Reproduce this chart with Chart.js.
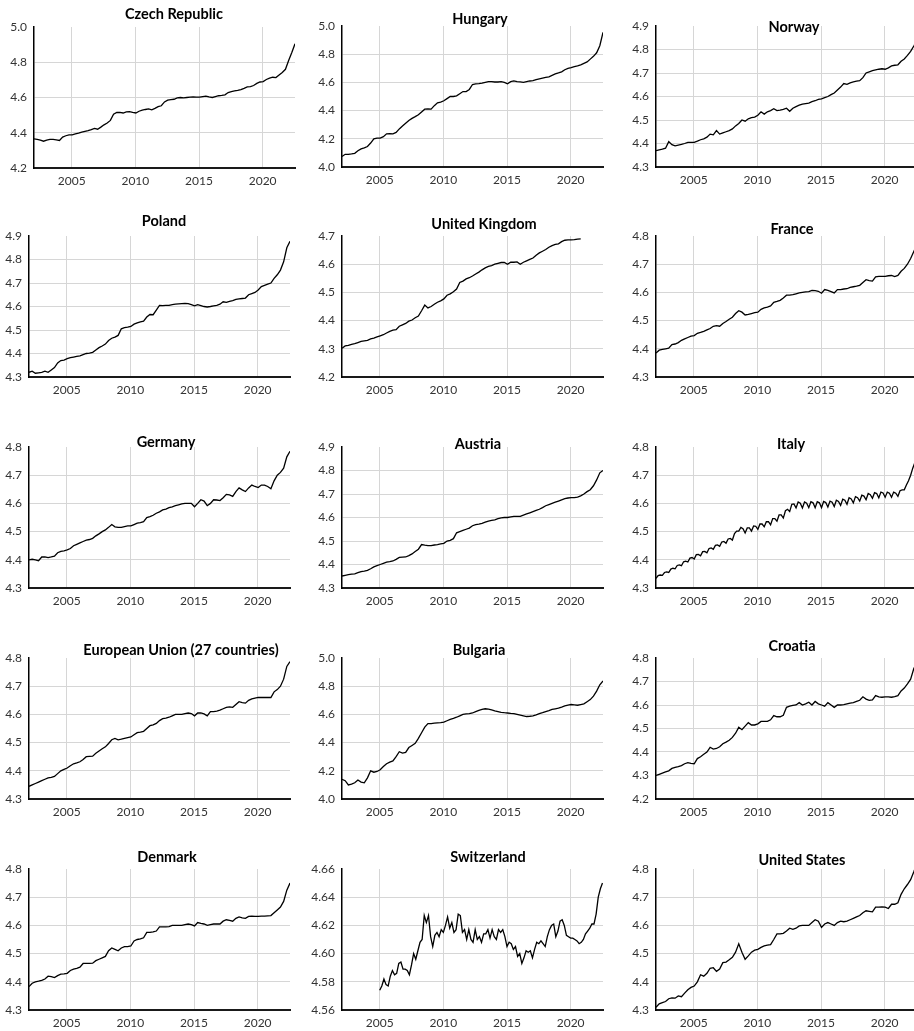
<!DOCTYPE html>
<html>
<head>
<meta charset="utf-8">
<script src="https://cdn.jsdelivr.net/npm/chart.js@4.4.1/dist/chart.umd.min.js"></script>
<style>
  html, body { margin: 0; padding: 0; width: 914px; height: 1031px; overflow: hidden; background: #fff; }
  canvas { position: absolute; }
  .ttl { position: absolute; font: 700 14.5px Lato, sans-serif; line-height: 1; color: #000;
         white-space: nowrap; transform: translate(-50%, -50%); }
</style>
</head>
<body>
<script>
// Log price index series, quarterly from early 2002 (Italy and Switzerland bimonthly)
const YEAR_TICKS = [2005, 2010, 2015, 2020];
const X_MIN = 2002.04, X_MAX = 2022.54;
const QUARTER_START = 2002.04, QUARTER_STEP = 0.25;
const BIMONTH_STEP = 1 / 6;
const SWISS_START = 2005.0;

const TICKS_42_50 = [4.2, 4.4, 4.6, 4.8, 5.0];
const TICKS_40_50 = [4.0, 4.2, 4.4, 4.6, 4.8, 5.0];
const TICKS_43_49 = [4.3, 4.4, 4.5, 4.6, 4.7, 4.8, 4.9];
const TICKS_42_47 = [4.2, 4.3, 4.4, 4.5, 4.6, 4.7];
const TICKS_43_48 = [4.3, 4.4, 4.5, 4.6, 4.7, 4.8];
const TICKS_42_48 = [4.2, 4.3, 4.4, 4.5, 4.6, 4.7, 4.8];
const TICKS_456_466 = [4.56, 4.58, 4.60, 4.62, 4.64, 4.66];

const czechRepublic = [
  4.365, 4.363, 4.358, 4.352, 4.358, 4.362, 4.362, 4.36, 4.356, 4.375, 4.383, 4.388,
  4.388, 4.393, 4.398, 4.404, 4.408, 4.412, 4.418, 4.425, 4.42, 4.432, 4.445, 4.455,
  4.47, 4.505, 4.515, 4.515, 4.512, 4.518, 4.52, 4.515, 4.512, 4.522, 4.528, 4.532,
  4.535, 4.53, 4.538, 4.548, 4.553, 4.575, 4.585, 4.588, 4.59, 4.598, 4.6, 4.598,
  4.6, 4.602, 4.603, 4.602, 4.602, 4.605, 4.608, 4.603, 4.6, 4.605, 4.61, 4.612,
  4.615, 4.628, 4.633, 4.637, 4.64, 4.645, 4.652, 4.66, 4.662, 4.668, 4.68, 4.688,
  4.69, 4.702, 4.71, 4.715, 4.713, 4.728, 4.742, 4.76, 4.81, 4.855, 4.905];

const hungary = [
  4.075, 4.09, 4.09, 4.093, 4.097, 4.115, 4.128, 4.135, 4.145, 4.17, 4.2, 4.205,
  4.205, 4.215, 4.235, 4.237, 4.235, 4.245, 4.27, 4.29, 4.31, 4.33, 4.345, 4.357,
  4.37, 4.39, 4.41, 4.412, 4.41, 4.435, 4.455, 4.46, 4.47, 4.485, 4.5, 4.5,
  4.505, 4.52, 4.535, 4.535, 4.55, 4.585, 4.59, 4.592, 4.595, 4.6, 4.605, 4.605,
  4.603, 4.603, 4.605, 4.6, 4.59, 4.605, 4.61, 4.605, 4.603, 4.6, 4.605, 4.61,
  4.612, 4.62, 4.625, 4.63, 4.635, 4.64, 4.65, 4.66, 4.667, 4.675, 4.69, 4.7,
  4.705, 4.712, 4.718, 4.725, 4.735, 4.745, 4.765, 4.785, 4.81, 4.86, 4.955];

const norway = [
  4.37, 4.373, 4.376, 4.38, 4.408, 4.395, 4.39, 4.393, 4.396, 4.4, 4.405, 4.405,
  4.405, 4.41, 4.416, 4.42, 4.427, 4.44, 4.437, 4.455, 4.44, 4.445, 4.45, 4.455,
  4.462, 4.475, 4.485, 4.5, 4.495, 4.505, 4.51, 4.512, 4.52, 4.535, 4.525, 4.535,
  4.54, 4.548, 4.54, 4.542, 4.545, 4.55, 4.537, 4.55, 4.557, 4.563, 4.568, 4.57,
  4.572, 4.578, 4.582, 4.588, 4.59, 4.595, 4.6, 4.608, 4.615, 4.628, 4.64, 4.655,
  4.652, 4.658, 4.662, 4.665, 4.667, 4.68, 4.7, 4.705, 4.71, 4.713, 4.716, 4.718,
  4.716, 4.722, 4.73, 4.733, 4.735, 4.75, 4.76, 4.775, 4.792, 4.815, 4.84];

const poland = [
  4.32, 4.325, 4.316, 4.318, 4.32, 4.325, 4.32, 4.33, 4.34, 4.36, 4.37, 4.372,
  4.378, 4.382, 4.385, 4.388, 4.39, 4.395, 4.4, 4.402, 4.405, 4.415, 4.425, 4.432,
  4.44, 4.455, 4.465, 4.47, 4.477, 4.505, 4.51, 4.512, 4.515, 4.525, 4.53, 4.535,
  4.538, 4.555, 4.566, 4.565, 4.585, 4.605, 4.604, 4.605, 4.605, 4.608, 4.61, 4.611,
  4.612, 4.613, 4.612, 4.608, 4.603, 4.608, 4.604, 4.6, 4.598, 4.6, 4.603, 4.605,
  4.61, 4.62, 4.618, 4.622, 4.625, 4.63, 4.632, 4.634, 4.636, 4.65, 4.655, 4.66,
  4.67, 4.685, 4.69, 4.695, 4.7, 4.72, 4.735, 4.755, 4.79, 4.85, 4.878];

const unitedKingdom = [
  4.302, 4.31, 4.312, 4.316, 4.318, 4.322, 4.326, 4.328, 4.33, 4.335, 4.338, 4.342,
  4.346, 4.35, 4.356, 4.362, 4.366, 4.368, 4.38, 4.385, 4.39, 4.398, 4.402, 4.41,
  4.416, 4.435, 4.455, 4.445, 4.45, 4.458, 4.465, 4.47, 4.477, 4.49, 4.495, 4.502,
  4.512, 4.535, 4.54, 4.548, 4.552, 4.558, 4.565, 4.572, 4.58, 4.587, 4.592, 4.595,
  4.6, 4.603, 4.606, 4.606, 4.6, 4.607, 4.607, 4.608, 4.6, 4.607, 4.612, 4.617,
  4.622, 4.632, 4.64, 4.646, 4.652, 4.66, 4.666, 4.67, 4.672, 4.68, 4.685, 4.686,
  4.686, 4.687, 4.689, 4.69];

const france = [
  4.385, 4.395, 4.398, 4.4, 4.402, 4.415, 4.417, 4.422, 4.43, 4.435, 4.44, 4.445,
  4.447, 4.455, 4.458, 4.462, 4.467, 4.472, 4.48, 4.482, 4.48, 4.49, 4.497, 4.505,
  4.512, 4.525, 4.535, 4.53, 4.52, 4.522, 4.525, 4.528, 4.53, 4.54, 4.545, 4.548,
  4.552, 4.565, 4.568, 4.572, 4.58, 4.59, 4.59, 4.592, 4.595, 4.598, 4.6, 4.602,
  4.603, 4.607, 4.606, 4.604, 4.597, 4.61, 4.607, 4.603, 4.598, 4.61, 4.61, 4.612,
  4.613, 4.618, 4.62, 4.622, 4.625, 4.635, 4.645, 4.642, 4.64, 4.655, 4.657, 4.657,
  4.657, 4.659, 4.66, 4.656, 4.66, 4.675, 4.685, 4.7, 4.72, 4.745, 4.77];

const germany = [
  4.4, 4.402, 4.4, 4.397, 4.41, 4.41, 4.408, 4.41, 4.413, 4.425, 4.43, 4.432,
  4.435, 4.44, 4.45, 4.455, 4.46, 4.465, 4.47, 4.472, 4.476, 4.485, 4.492, 4.5,
  4.506, 4.515, 4.525, 4.517, 4.515, 4.515, 4.518, 4.52, 4.52, 4.525, 4.53, 4.532,
  4.535, 4.55, 4.553, 4.558, 4.565, 4.57, 4.577, 4.58, 4.585, 4.588, 4.592, 4.595,
  4.598, 4.6, 4.6, 4.6, 4.588, 4.6, 4.613, 4.608, 4.592, 4.6, 4.613, 4.612,
  4.61, 4.62, 4.632, 4.63, 4.625, 4.642, 4.655, 4.648, 4.642, 4.655, 4.665, 4.66,
  4.656, 4.665, 4.665, 4.66, 4.652, 4.68, 4.7, 4.71, 4.725, 4.765, 4.785];

const austria = [
  4.351, 4.354, 4.357, 4.359, 4.36, 4.365, 4.37, 4.372, 4.375, 4.382, 4.39, 4.395,
  4.4, 4.405, 4.41, 4.412, 4.415, 4.422, 4.43, 4.431, 4.432, 4.438, 4.445, 4.455,
  4.465, 4.485, 4.482, 4.48, 4.48, 4.483, 4.485, 4.488, 4.49, 4.5, 4.503, 4.51,
  4.535, 4.54, 4.545, 4.55, 4.555, 4.565, 4.57, 4.572, 4.575, 4.58, 4.585, 4.588,
  4.59, 4.595, 4.598, 4.6, 4.6, 4.603, 4.605, 4.605, 4.605, 4.61, 4.615, 4.62,
  4.625, 4.63, 4.635, 4.642, 4.65, 4.655, 4.66, 4.665, 4.67, 4.675, 4.68, 4.683,
  4.685, 4.685, 4.687, 4.692, 4.7, 4.71, 4.718, 4.735, 4.76, 4.79, 4.8];

const italy = [
  4.334, 4.344, 4.346, 4.345, 4.355, 4.357,
  4.355, 4.367, 4.37, 4.368, 4.38, 4.382,
  4.379, 4.393, 4.395, 4.392, 4.406, 4.408,
  4.403, 4.418, 4.419, 4.414, 4.429, 4.43,
  4.425, 4.44, 4.442, 4.437, 4.451, 4.453,
  4.448, 4.463, 4.465, 4.459, 4.474, 4.476,
  4.47, 4.493, 4.502, 4.502, 4.515, 4.51,
  4.495, 4.513, 4.513, 4.502, 4.52, 4.519,
  4.508, 4.527, 4.527, 4.517, 4.535, 4.535,
  4.524, 4.546, 4.546, 4.537, 4.559, 4.559,
  4.548, 4.574, 4.579, 4.571, 4.597, 4.598,
  4.584, 4.605, 4.601, 4.584, 4.605, 4.601,
  4.585, 4.606, 4.602, 4.585, 4.606, 4.602,
  4.585, 4.607, 4.603, 4.587, 4.608, 4.604,
  4.589, 4.611, 4.607, 4.593, 4.615, 4.611,
  4.597, 4.62, 4.616, 4.602, 4.624, 4.62,
  4.608, 4.629, 4.626, 4.613, 4.635, 4.631,
  4.618, 4.638, 4.635, 4.62, 4.64, 4.637,
  4.622, 4.64, 4.636, 4.622, 4.64, 4.636,
  4.625, 4.645, 4.648, 4.648, 4.665, 4.68,
  4.7, 4.725, 4.745, 4.76];

const europeanUnion = [
  4.345, 4.35, 4.355, 4.36, 4.365, 4.37, 4.375, 4.377, 4.38, 4.39, 4.4, 4.405,
  4.41, 4.418, 4.425, 4.428, 4.432, 4.44, 4.45, 4.451, 4.452, 4.462, 4.47, 4.478,
  4.485, 4.497, 4.51, 4.515, 4.51, 4.512, 4.515, 4.518, 4.52, 4.528, 4.535, 4.537,
  4.54, 4.55, 4.56, 4.563, 4.568, 4.578, 4.585, 4.587, 4.59, 4.595, 4.6, 4.6,
  4.6, 4.603, 4.605, 4.603, 4.595, 4.605, 4.605, 4.602, 4.595, 4.61, 4.61, 4.612,
  4.615, 4.62, 4.625, 4.627, 4.625, 4.635, 4.645, 4.642, 4.64, 4.65, 4.655, 4.658,
  4.66, 4.66, 4.66, 4.66, 4.66, 4.68, 4.688, 4.7, 4.725, 4.77, 4.787];

const bulgaria = [
  4.14, 4.13, 4.1, 4.105, 4.115, 4.135, 4.12, 4.115, 4.15, 4.2, 4.19, 4.195,
  4.207, 4.23, 4.25, 4.262, 4.27, 4.3, 4.335, 4.325, 4.33, 4.365, 4.38, 4.395,
  4.43, 4.47, 4.51, 4.535, 4.535, 4.538, 4.54, 4.542, 4.545, 4.555, 4.565, 4.572,
  4.58, 4.59, 4.6, 4.603, 4.605, 4.61, 4.62, 4.628, 4.635, 4.64, 4.637, 4.632,
  4.625, 4.62, 4.615, 4.612, 4.61, 4.607, 4.605, 4.6, 4.595, 4.59, 4.585, 4.587,
  4.59, 4.597, 4.605, 4.612, 4.62, 4.627, 4.635, 4.64, 4.645, 4.652, 4.66, 4.665,
  4.67, 4.668, 4.665, 4.67, 4.675, 4.69, 4.705, 4.73, 4.765, 4.81, 4.837];

const croatia = [
  4.3, 4.305, 4.31, 4.315, 4.32, 4.33, 4.335, 4.338, 4.342, 4.35, 4.355, 4.352,
  4.35, 4.372, 4.38, 4.39, 4.4, 4.42, 4.412, 4.415, 4.422, 4.435, 4.442, 4.45,
  4.462, 4.48, 4.505, 4.495, 4.51, 4.525, 4.515, 4.515, 4.52, 4.53, 4.53, 4.53,
  4.537, 4.555, 4.55, 4.55, 4.556, 4.59, 4.595, 4.598, 4.6, 4.61, 4.6, 4.605,
  4.612, 4.6, 4.615, 4.605, 4.6, 4.595, 4.61, 4.6, 4.59, 4.6, 4.6, 4.602,
  4.605, 4.608, 4.61, 4.615, 4.62, 4.635, 4.625, 4.62, 4.622, 4.64, 4.635, 4.633,
  4.635, 4.635, 4.633, 4.636, 4.64, 4.66, 4.672, 4.69, 4.71, 4.755, 4.78];

const denmark = [
  4.383, 4.395, 4.4, 4.402, 4.405, 4.41, 4.42, 4.418, 4.415, 4.422, 4.427, 4.428,
  4.43, 4.44, 4.445, 4.448, 4.452, 4.465, 4.465, 4.465, 4.466, 4.475, 4.48, 4.485,
  4.49, 4.51, 4.52, 4.515, 4.51, 4.52, 4.525, 4.525, 4.527, 4.545, 4.55, 4.552,
  4.556, 4.575, 4.575, 4.577, 4.58, 4.595, 4.595, 4.595, 4.596, 4.6, 4.6, 4.6,
  4.6, 4.603, 4.605, 4.603, 4.598, 4.61, 4.607, 4.605, 4.6, 4.603, 4.605, 4.605,
  4.605, 4.615, 4.62, 4.618, 4.615, 4.625, 4.63, 4.627, 4.625, 4.632, 4.633, 4.632,
  4.632, 4.633, 4.633, 4.634, 4.635, 4.645, 4.655, 4.665, 4.685, 4.725, 4.75];

const switzerland = [
  4.574, 4.577, 4.582, 4.578, 4.577, 4.584,
  4.588, 4.585, 4.586, 4.593, 4.594, 4.589,
  4.589, 4.588, 4.585, 4.592, 4.6, 4.596,
  4.602, 4.608, 4.61, 4.627, 4.622, 4.627,
  4.612, 4.605, 4.613, 4.615, 4.612, 4.617,
  4.615, 4.62, 4.626, 4.618, 4.622, 4.615,
  4.617, 4.628, 4.627, 4.615, 4.617, 4.61,
  4.617, 4.61, 4.608, 4.617, 4.61, 4.612,
  4.608, 4.614, 4.614, 4.617, 4.611, 4.617,
  4.612, 4.61, 4.617, 4.615, 4.617, 4.612,
  4.605, 4.608, 4.607, 4.603, 4.605, 4.598,
  4.6, 4.593, 4.597, 4.602, 4.601, 4.602,
  4.597, 4.603, 4.608, 4.607, 4.609, 4.607,
  4.605, 4.612, 4.617, 4.62, 4.621, 4.612,
  4.616, 4.623, 4.624, 4.62, 4.613, 4.612,
  4.611, 4.611, 4.61, 4.609, 4.607, 4.608,
  4.61, 4.614, 4.616, 4.618, 4.621, 4.621,
  4.628, 4.64, 4.646, 4.65];

const unitedStates = [
  4.31, 4.322, 4.326, 4.33, 4.34, 4.343, 4.342, 4.35, 4.347, 4.36, 4.372, 4.38,
  4.385, 4.4, 4.425, 4.42, 4.43, 4.448, 4.45, 4.437, 4.445, 4.468, 4.47, 4.478,
  4.487, 4.505, 4.535, 4.505, 4.48, 4.492, 4.505, 4.512, 4.515, 4.522, 4.527, 4.53,
  4.532, 4.55, 4.57, 4.57, 4.572, 4.58, 4.59, 4.586, 4.59, 4.598, 4.6, 4.6,
  4.6, 4.61, 4.62, 4.615, 4.593, 4.605, 4.61, 4.605, 4.6, 4.61, 4.615, 4.613,
  4.615, 4.62, 4.625, 4.63, 4.635, 4.645, 4.652, 4.65, 4.648, 4.665, 4.665, 4.666,
  4.665, 4.66, 4.675, 4.675, 4.68, 4.71, 4.73, 4.745, 4.762, 4.79, 4.82];

// Grid of small multiples: plot-area corner, title anchor
const PLOT_W = 261, PLOT_H = 141;
const PAD_L = 36, PAD_T = 16, PAD_R = 4, PAD_B = 30;

const PANELS = [
  { title: 'Czech Republic', values: czechRepublic, start: QUARTER_START, step: QUARTER_STEP, ticks: TICKS_42_50, dp: 1, left: 34, top: 27, tx: 174, ty: 14 },
  { title: 'Hungary', values: hungary, start: QUARTER_START, step: QUARTER_STEP, ticks: TICKS_40_50, dp: 1, left: 342, top: 26, tx: 480, ty: 19 },
  { title: 'Norway', values: norway, start: QUARTER_START, step: QUARTER_STEP, ticks: TICKS_43_49, dp: 1, left: 656, top: 26, tx: 794, ty: 26.5 },
  { title: 'Poland', values: poland, start: QUARTER_START, step: QUARTER_STEP, ticks: TICKS_43_49, dp: 1, left: 29, top: 236, tx: 164, ty: 220.5 },
  { title: 'United Kingdom', values: unitedKingdom, start: QUARTER_START, step: QUARTER_STEP, ticks: TICKS_42_47, dp: 1, left: 342, top: 236, tx: 484, ty: 224 },
  { title: 'France', values: france, start: QUARTER_START, step: QUARTER_STEP, ticks: TICKS_43_48, dp: 1, left: 656, top: 236, tx: 792, ty: 228.5 },
  { title: 'Germany', values: germany, start: QUARTER_START, step: QUARTER_STEP, ticks: TICKS_43_48, dp: 1, left: 29, top: 447, tx: 166, ty: 441.5 },
  { title: 'Austria', values: austria, start: QUARTER_START, step: QUARTER_STEP, ticks: TICKS_43_49, dp: 1, left: 342, top: 447, tx: 478, ty: 444 },
  { title: 'Italy', values: italy, start: QUARTER_START, step: BIMONTH_STEP, ticks: TICKS_43_48, dp: 1, left: 656, top: 447, tx: 791, ty: 444 },
  { title: 'European Union (27 countries)', values: europeanUnion, start: QUARTER_START, step: QUARTER_STEP, ticks: TICKS_43_48, dp: 1, left: 29, top: 658, tx: 181, ty: 649.5 },
  { title: 'Bulgaria', values: bulgaria, start: QUARTER_START, step: QUARTER_STEP, ticks: TICKS_40_50, dp: 1, left: 342, top: 658, tx: 479, ty: 649.5 },
  { title: 'Croatia', values: croatia, start: QUARTER_START, step: QUARTER_STEP, ticks: TICKS_42_48, dp: 1, left: 656, top: 658, tx: 792, ty: 646 },
  { title: 'Denmark', values: denmark, start: QUARTER_START, step: QUARTER_STEP, ticks: TICKS_43_48, dp: 1, left: 29, top: 869, tx: 167, ty: 857 },
  { title: 'Switzerland', values: switzerland, start: SWISS_START, step: BIMONTH_STEP, ticks: TICKS_456_466, dp: 2, left: 342, top: 869, tx: 488, ty: 857 },
  { title: 'United States', values: unitedStates, start: QUARTER_START, step: QUARTER_STEP, ticks: TICKS_43_48, dp: 1, left: 656, top: 869, tx: 802, ty: 860 }
];

const TICK_FONT = { family: 'Lato, sans-serif', size: 12 };
const TICK_COLOR = '#333';
const GRID_COLOR = '#d6d6d6';

PANELS.forEach(p => {
  const cv = document.createElement('canvas');
  const w = PAD_L + PLOT_W + PAD_R, h = PAD_T + PLOT_H + PAD_B;
  cv.width = w; cv.height = h;
  cv.style.width = w + 'px'; cv.style.height = h + 'px';
  cv.style.left = (p.left - PAD_L) + 'px';
  cv.style.top = (p.top - PAD_T) + 'px';
  document.body.appendChild(cv);

  const yMin = p.ticks[0], yMax = p.ticks[p.ticks.length - 1];
  const points = p.values.map((v, i) => ({ x: p.start + i * p.step, y: v }));

  new Chart(cv.getContext('2d'), {
    type: 'line',
    data: { datasets: [{ data: points, borderColor: '#000', borderWidth: 1.3, pointRadius: 0, tension: 0, fill: false }] },
    options: {
      responsive: false, animation: false, devicePixelRatio: 1,
      layout: { padding: { top: PAD_T, right: PAD_R, left: 0, bottom: 0 } },
      plugins: { legend: { display: false }, tooltip: { enabled: false } },
      scales: {
        x: {
          type: 'linear', min: X_MIN, max: X_MAX,
          afterBuildTicks: s => { s.ticks = YEAR_TICKS.map(v => ({ value: v })); },
          afterFit: s => { s.height = PAD_B; },
          grid: { color: GRID_COLOR, lineWidth: 1, drawTicks: false },
          border: { display: true, color: '#1a1a1a', width: 2 },
          ticks: { font: TICK_FONT, color: TICK_COLOR, padding: 6, maxRotation: 0, autoSkip: false, callback: v => String(v) }
        },
        y: {
          min: yMin, max: yMax,
          afterBuildTicks: s => { s.ticks = p.ticks.map(v => ({ value: v })); },
          afterFit: s => { s.width = PAD_L; },
          grid: { color: c => (c.tick && Math.abs(c.tick.value - yMax) < 1e-9) ? 'rgba(0,0,0,0)' : GRID_COLOR, lineWidth: 1, drawTicks: false },
          border: { display: true, color: '#000', width: 1.5 },
          ticks: { font: TICK_FONT, color: TICK_COLOR, padding: 7, autoSkip: false, callback: v => Number(v).toFixed(p.dp) }
        }
      }
    }
  });

  const t = document.createElement('div');
  t.className = 'ttl';
  t.textContent = p.title;
  t.style.left = p.tx + 'px';
  t.style.top = p.ty + 'px';
  document.body.appendChild(t);
});
</script>
</body>
</html>
